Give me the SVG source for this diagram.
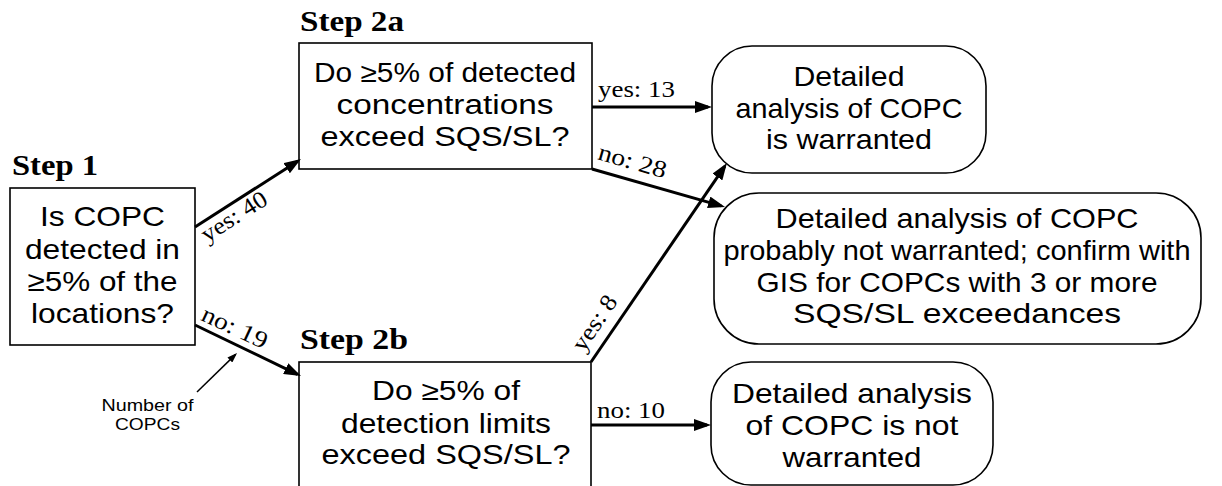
<svg xmlns="http://www.w3.org/2000/svg" width="1222" height="486" viewBox="0 0 1222 486">
  <style>
    .box { fill: #ffffff; stroke: #000000; stroke-width: 1.6; }
    .t { font-family: "Liberation Sans", Arial, sans-serif; fill: #000000; text-anchor: middle; }
    .step { font-family: "Liberation Serif", "Times New Roman", serif; font-weight: bold; font-size: 30px; fill: #000000; }
    .lbl { font-family: "Liberation Serif", "Times New Roman", serif; font-size: 24px; fill: #000000; }
    .c { fill: none; stroke: #000000; stroke-width: 3; }
    .thin { fill: none; stroke: #000000; stroke-width: 1.5; }
  </style>
  <defs>
    <marker id="arrow" markerUnits="userSpaceOnUse" markerWidth="17" markerHeight="12" refX="13" refY="6" orient="auto">
      <path d="M0,0 L17,6 L0,12 z" fill="#000000"/>
    </marker>
    <marker id="arrowSmall" markerUnits="userSpaceOnUse" markerWidth="10" markerHeight="7" refX="8" refY="3.5" orient="auto">
      <path d="M0,0 L10,3.5 L0,7 z" fill="#000000"/>
    </marker>
  </defs>
  <rect width="1222" height="486" fill="#ffffff"/>

  <!-- Step 1 -->
  <g id="step1">
    <text class="step" x="12" y="175" textLength="86" lengthAdjust="spacingAndGlyphs">Step 1</text>
    <rect class="box" x="10" y="188" width="185" height="157"/>
    <text class="t" font-size="28.5" x="102.5" y="226" textLength="125" lengthAdjust="spacingAndGlyphs">Is COPC</text>
    <text class="t" font-size="28.5" x="102.5" y="259" textLength="155" lengthAdjust="spacingAndGlyphs">detected in</text>
    <text class="t" font-size="28.5" x="102.5" y="291" textLength="150" lengthAdjust="spacingAndGlyphs">≥5% of the</text>
    <text class="t" font-size="28.5" x="102.5" y="323" textLength="143" lengthAdjust="spacingAndGlyphs">locations?</text>
  </g>

  <!-- Step 2a -->
  <g id="step2a">
    <text class="step" x="300" y="31" textLength="104" lengthAdjust="spacingAndGlyphs">Step 2a</text>
    <rect class="box" x="299" y="43" width="293" height="126"/>
    <text class="t" font-size="27" x="445" y="82" textLength="262" lengthAdjust="spacingAndGlyphs">Do ≥5% of detected</text>
    <text class="t" font-size="27" x="445" y="114" textLength="217" lengthAdjust="spacingAndGlyphs">concentrations</text>
    <text class="t" font-size="27" x="445" y="146" textLength="249" lengthAdjust="spacingAndGlyphs">exceed SQS/SL?</text>
  </g>

  <!-- Step 2b -->
  <g id="step2b">
    <text class="step" x="300" y="349" textLength="108" lengthAdjust="spacingAndGlyphs">Step 2b</text>
    <rect class="box" x="299" y="362" width="292" height="126"/>
    <text class="t" font-size="27" x="446" y="400" textLength="148" lengthAdjust="spacingAndGlyphs">Do ≥5% of</text>
    <text class="t" font-size="27" x="446" y="433" textLength="210" lengthAdjust="spacingAndGlyphs">detection limits</text>
    <text class="t" font-size="27" x="446" y="464" textLength="249" lengthAdjust="spacingAndGlyphs">exceed SQS/SL?</text>
  </g>

  <!-- Outcome: warranted -->
  <g id="outcome-warranted">
    <rect class="box" x="712" y="46" width="274" height="127" rx="40" ry="40"/>
    <text class="t" font-size="28" x="849" y="86" textLength="111" lengthAdjust="spacingAndGlyphs">Detailed</text>
    <text class="t" font-size="28" x="849" y="118" textLength="227" lengthAdjust="spacingAndGlyphs">analysis of COPC</text>
    <text class="t" font-size="28" x="849" y="149" textLength="166" lengthAdjust="spacingAndGlyphs">is warranted</text>
  </g>

  <!-- Outcome: probably not warranted -->
  <g id="outcome-probably-not">
    <rect class="box" x="714" y="193" width="487" height="151" rx="45" ry="45"/>
    <text class="t" font-size="28" x="957" y="228" textLength="363" lengthAdjust="spacingAndGlyphs">Detailed analysis of COPC</text>
    <text class="t" font-size="28" x="957" y="260" textLength="467" lengthAdjust="spacingAndGlyphs">probably not warranted; confirm with</text>
    <text class="t" font-size="28" x="957" y="292" textLength="401" lengthAdjust="spacingAndGlyphs">GIS for COPCs with 3 or more</text>
    <text class="t" font-size="28" x="957" y="323" textLength="328" lengthAdjust="spacingAndGlyphs">SQS/SL exceedances</text>
  </g>

  <!-- Outcome: not warranted -->
  <g id="outcome-not-warranted">
    <rect class="box" x="711" y="362" width="282" height="123" rx="40" ry="40"/>
    <text class="t" font-size="28.5" x="852" y="403" textLength="240" lengthAdjust="spacingAndGlyphs">Detailed analysis</text>
    <text class="t" font-size="28.5" x="852" y="435" textLength="213" lengthAdjust="spacingAndGlyphs">of COPC is not</text>
    <text class="t" font-size="28.5" x="852" y="467" textLength="139" lengthAdjust="spacingAndGlyphs">warranted</text>
  </g>

  <!-- Annotation -->
  <g id="note-count">
    <text class="t" font-size="17" x="147.5" y="411" textLength="92" lengthAdjust="spacingAndGlyphs">Number of</text>
    <text class="t" font-size="17" x="147.5" y="430" textLength="65" lengthAdjust="spacingAndGlyphs">COPCs</text>
  </g>

  <!-- Connectors -->
  <g id="connectors">
    <line class="c" x1="195" y1="227" x2="297.6" y2="161.2" marker-end="url(#arrow)"/>
    <line class="c" x1="195" y1="325" x2="297.4" y2="374.3" marker-end="url(#arrow)"/>
    <line class="c" x1="592" y1="107" x2="708" y2="107" marker-end="url(#arrow)"/>
    <line class="c" x1="592" y1="169" x2="721.2" y2="205.9" marker-end="url(#arrow)"/>
    <line class="c" x1="591" y1="362" x2="724.7" y2="166.3" marker-end="url(#arrow)"/>
    <line class="c" x1="591" y1="425" x2="707" y2="425" marker-end="url(#arrow)"/>
    <line class="thin" x1="197" y1="392" x2="235.6" y2="354.4" marker-end="url(#arrowSmall)"/>

    <text class="lbl" transform="translate(235,218) rotate(-32.5)" x="0" y="6" text-anchor="middle" textLength="74" lengthAdjust="spacingAndGlyphs">yes: 40</text>
    <text class="lbl" transform="translate(234,329) rotate(25)" x="0" y="6" text-anchor="middle" textLength="70" lengthAdjust="spacingAndGlyphs">no: 19</text>
    <text class="lbl" x="598" y="97" textLength="77" lengthAdjust="spacingAndGlyphs">yes: 13</text>
    <text class="lbl" transform="translate(632,163) rotate(16)" x="0" y="6" text-anchor="middle" textLength="70" lengthAdjust="spacingAndGlyphs">no: 28</text>
    <text class="lbl" transform="translate(596,324) rotate(-55.8)" x="0" y="6" text-anchor="middle" textLength="62" lengthAdjust="spacingAndGlyphs">yes: 8</text>
    <text class="lbl" x="597" y="418" textLength="68" lengthAdjust="spacingAndGlyphs">no: 10</text>
  </g>
</svg>
